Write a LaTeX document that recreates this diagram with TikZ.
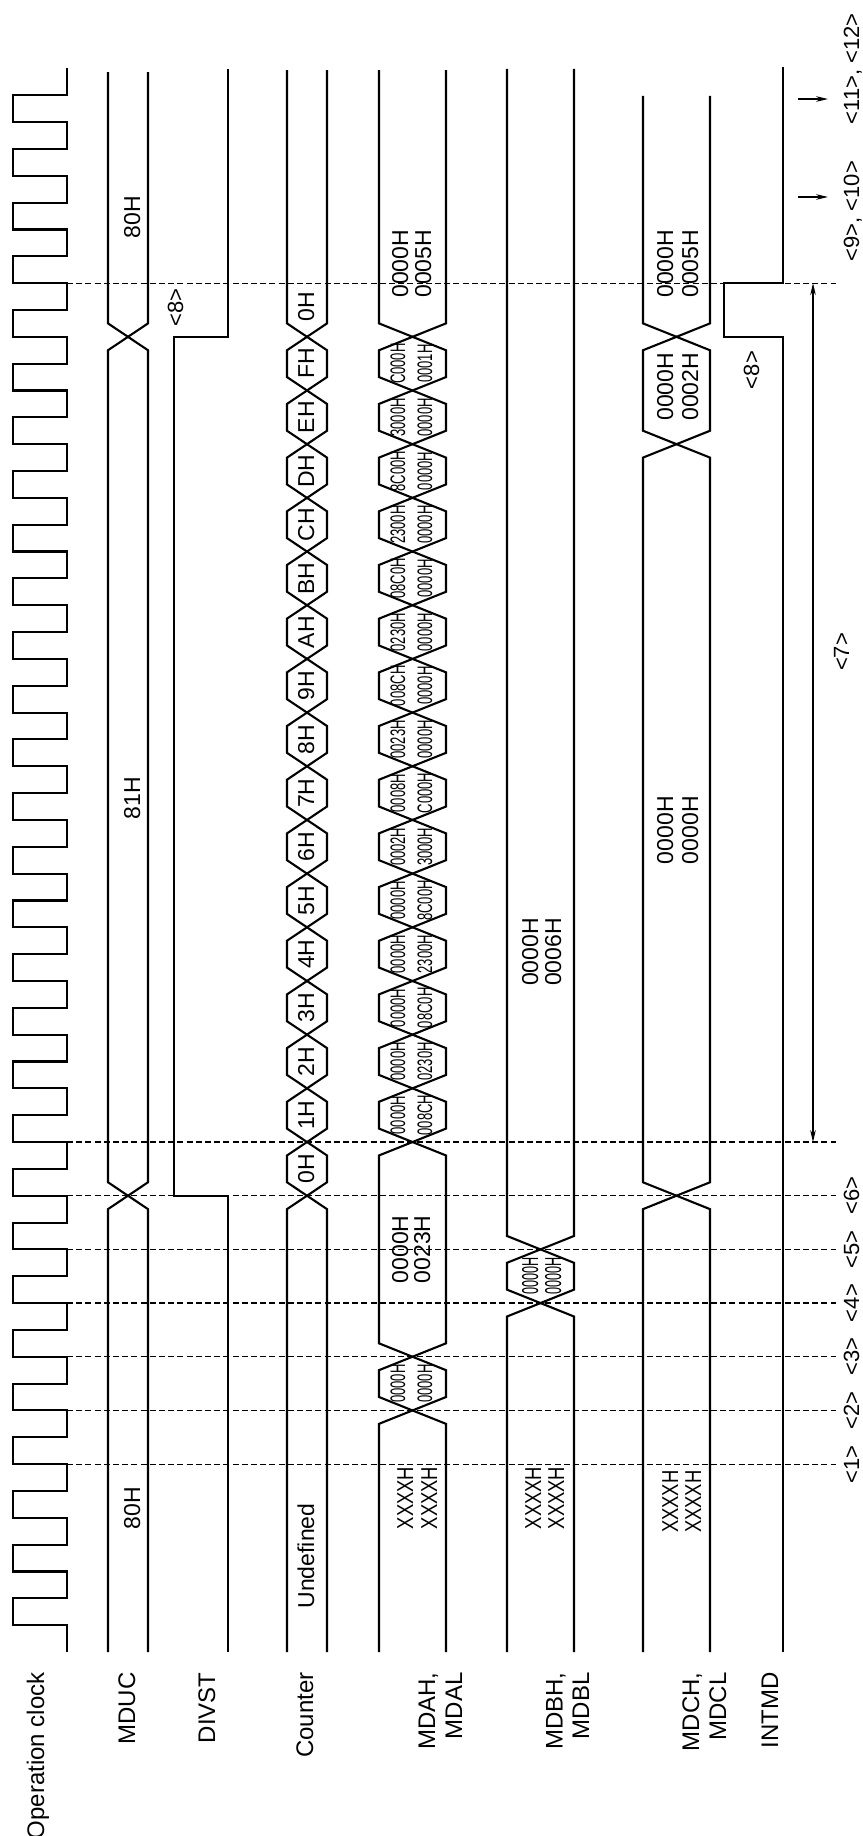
\documentclass[tikz,border=0pt]{standalone}
\usepackage{fontspec}
\usepackage{graphicx}
\setmainfont{Liberation Sans}
\usetikzlibrary{arrows.meta}
\newcommand\tdel{0.25}
\newcommand\seghex[4]{\draw[sig] ({(#1+#2)/2},#3) -- (#1,#3+\tdel) -- (#1,#4-\tdel) -- ({(#1+#2)/2},#4) -- (#2,#4-\tdel) -- (#2,#3+\tdel) -- cycle;}
\newcommand\segstart[4]{\draw[sig] (#1,#3) -- (#1,#4-\tdel) -- ({(#1+#2)/2},#4) -- (#2,#4-\tdel) -- (#2,#3);}
\newcommand\segend[4]{\draw[sig] (#1,#4) -- (#1,#3+\tdel) -- ({(#1+#2)/2},#3) -- (#2,#3+\tdel) -- (#2,#4);}
\newcommand\hsq[1]{\scalebox{0.62}[1]{#1}}
\newcommand\xsq[1]{\scalebox{0.8}[1]{#1}}
\begin{document}
\begin{tikzpicture}[x=0.5pt,y=26.84pt,
  sig/.style={line width=1.05pt, line join=miter},
  gridline/.style={line width=0.6pt, dash pattern=on 3pt off 1.6pt},
  lab/.style={rotate=90, inner sep=0pt, anchor=base east, font=\fontsize{12}{14}\selectfont},
  val/.style={rotate=90, inner sep=0pt, anchor=base, font=\fontsize{11.5}{13}\selectfont},
  sval/.style={rotate=90, inner sep=0pt, anchor=base, font=\fontsize{10.5}{12}\selectfont},
  tmark/.style={rotate=90, inner sep=0pt, anchor=base, font=\fontsize{11}{13}\selectfont},
  dimline/.style={line width=0.55pt},
  tip/.tip={Stealth[length=6pt,width=2.8pt]}]
\useasboundingbox (0,-3.4277) rectangle (862,30.775);

% dashed time marks
\foreach \t in {3.5,4.5,5.5,6.5,7.5,8.5,9.5,25.5}
  \draw[gridline] (67,\t) -- (836,\t);

% Operation clock
\draw[sig] (67,0) \foreach \k in {0,...,28} { -- (67,\k+0.5) -- (13,\k+0.5) -- (13,\k+1) -- (67,\k+1) } -- (67,29.5);

% MDUC
\segstart{108}{148}{0}{8.5}
\seghex{108}{148}{8.5}{24.5}
\segend{108}{148}{24.5}{29.43}

% DIVST
\draw[sig] (228,0) -- (228,8.5) -- (174,8.5) -- (174,24.5) -- (228,24.5) -- (228,29.49);

% Counter
\segstart{287}{327}{0}{8.5}
\foreach \k in {8,...,23} {\seghex{287}{327}{\k+0.5}{\k+1.5}}
\segend{287}{327}{24.5}{29.47}

% MDAH, MDAL
\segstart{379}{446}{0}{4.5}
\seghex{379}{446}{4.5}{5.5}
\seghex{379}{446}{5.5}{9.5}
\foreach \k in {9,...,23} {\seghex{379}{446}{\k+0.5}{\k+1.5}}
\segend{379}{446}{24.5}{29.47}

% MDBH, MDBL
\segstart{507}{574}{0}{6.5}
\seghex{507}{574}{6.5}{7.5}
\segend{507}{574}{7.5}{29.49}

% MDCH, MDCL
\segstart{643}{710}{0}{8.5}
\seghex{643}{710}{8.5}{22.5}
\seghex{643}{710}{22.5}{24.5}
\segend{643}{710}{24.5}{28.99}

% INTMD
\draw[sig] (783,0) -- (783,24.5) -- (724,24.5) -- (724,25.5) -- (783,25.5) -- (783,29.53);

% <7> dimension arrow
\coordinate (a7s) at (813,9.5);
\coordinate (a7e) at (813,25.5);
\draw[dimline, tip-tip] (a7s) -- (a7e);
% small arrows
\coordinate (a9s) at (798,27.105);
\coordinate (a9e) at (828,27.105);
\coordinate (a11s) at (798,28.93);
\coordinate (a11e) at (828,28.93);
\draw[dimline, -tip] (a9s) -- (a9e);
\draw[dimline, -tip] (a11s) -- (a11e);

% signal names
\node[lab] (nclk) at (44,-0.3726) {Operation clock};
\node[lab] (nmduc) at (135,-0.3726) {MDUC};
\node[lab] (ndivst) at (215,-0.3726) {DIVST};
\node[lab] (ncnt) at (313,-0.3726) {Counter};
\node[lab] (nmdah) at (435,-0.3726) {MDAH,};
\node[lab] (nmdal) at (462,-0.3726) {MDAL};
\node[lab] (nmdbh) at (562.5,-0.3726) {MDBH,};
\node[lab] (nmdbl) at (589,-0.3726) {MDBL};
\node[lab] (nmdch) at (699,-0.3726) {MDCH,};
\node[lab] (nmdcl) at (726,-0.3726) {MDCL};
\node[lab] (nint) at (778,-0.3726) {INTMD};

% MDUC values
\node[val] (uc1) at (140,2.683) {80H};
\node[val] (uc2) at (140,15.91) {81H};
\node[val] (uc3) at (140,26.73) {80H};

% Counter values
\node[val] (cu) at (314,1.788) {Undefined};
\foreach \k/\l in {0/0,1/1,2/2,3/3,4/4,5/5,6/6,7/7,8/8,9/9,10/A,11/B,12/C,13/D,14/E,15/F}
  \node[val] (c\k) at (314,\k+9) {\l H};
\node[val] (cend) at (314,25.06) {0H};

% MDAH values
\node[val] (ax1) at (413,2.869) {\xsq{XXXXH}};
\node[val] (ax2) at (437,2.869) {\xsq{XXXXH}};
\node[sval] (as1) at (405,5) {\hsq{0000H}};
\node[sval] (as2) at (432,5) {\hsq{0000H}};
\node[val] (ab1) at (408,7.5) {0000H};
\node[val] (ab2) at (430,7.5) {0023H};
\foreach \t/\a/\b in {10/0000H/008CH,11/0000H/0230H,12/0000H/08C0H,13/0000H/2300H,14/0000H/8C00H,15/0002H/3000H,16/0008H/C000H,17/0023H/0000H,18/008CH/0000H,19/0230H/0000H,20/08C0H/0000H,21/2300H/0000H,22/8C00H/0000H,23/3000H/0000H,24/C000H/0001H}
{
  \node[sval] (ah\t) at (405,\t) {\hsq{\a}};
  \node[sval] (al\t) at (432,\t) {\hsq{\b}};
}
\node[val] (ae1) at (408,25.86) {0000H};
\node[val] (ae2) at (431,25.86) {0005H};

% MDBH values
\node[val] (bx1) at (541,2.869) {\xsq{XXXXH}};
\node[val] (bx2) at (564,2.869) {\xsq{XXXXH}};
\node[val] (bs1) at (538,7) {\scalebox{0.55}[1]{0000H}};
\node[val] (bs2) at (561,7) {\scalebox{0.55}[1]{0000H}};
\node[val] (bb1) at (538,13.04) {0000H};
\node[val] (bb2) at (561,13.04) {0006H};

% MDCH values
\node[val] (dx1) at (678,2.80) {\xsq{XXXXH}};
\node[val] (dx2) at (701,2.80) {\xsq{XXXXH}};
\node[val] (dm1) at (673,15.31) {0000H};
\node[val] (dm2) at (698,15.31) {0000H};
\node[val] (dh1) at (673,23.57) {0000H};
\node[val] (dh2) at (698,23.57) {0002H};
\node[val] (de1) at (673,25.86) {0000H};
\node[val] (de2) at (698,25.86) {0005H};

% timing marks
\foreach \i/\t in {1/3.5,2/4.5,3/5.5,4/6.5,5/7.5,6/8.5}
  \node[tmark] (m\i) at (859,\t) {<\i>};
\node[tmark] (m7) at (849,18.63) {<7>};
\node[tmark] (m8a) at (183,25.04) {<8>};
\node[tmark] (m8b) at (759,23.88) {<8>};
\node[tmark] (m9) at (859,26.84) {<9>, <10>};
\node[tmark] (m11) at (859,29.49) {<11>, <12>};
\end{tikzpicture}
\end{document}
